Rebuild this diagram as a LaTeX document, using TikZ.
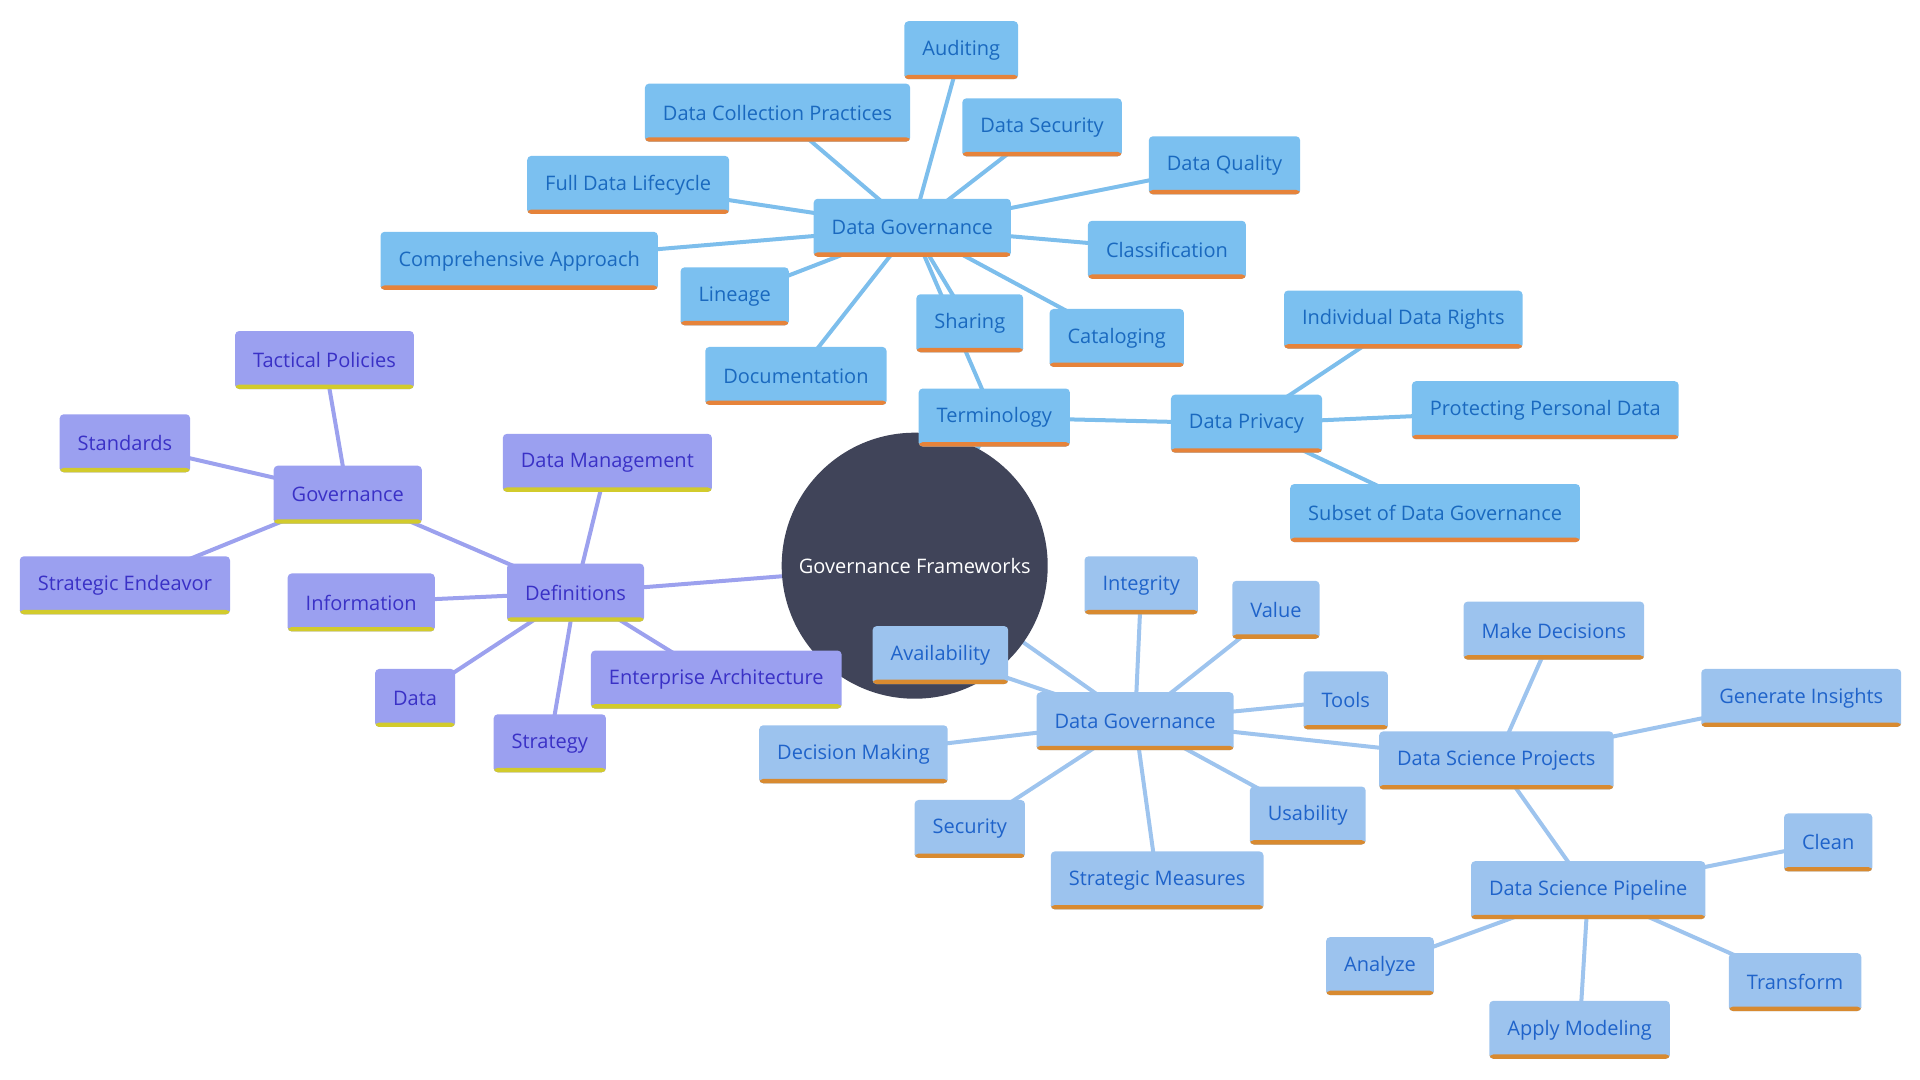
\documentclass[tikz,border=0pt]{standalone}
\usepackage{fontspec}
\setmainfont{Open Sans}
\usetikzlibrary{backgrounds}
\definecolor{rootfill}{HTML}{404459}
\definecolor{purplefill}{HTML}{9BA0F0}
\definecolor{purpletext}{HTML}{3A31C6}
\definecolor{purplebar}{HTML}{D2CB2C}
\definecolor{purpleline}{HTML}{9CA1EE}
\definecolor{bluefill}{HTML}{7BC0F0}
\definecolor{bluetext}{HTML}{1A69BF}
\definecolor{bluebar}{HTML}{E6833A}
\definecolor{blueline}{HTML}{7DBEEC}
\definecolor{skyfill}{HTML}{9CC3EE}
\definecolor{skytext}{HTML}{1F63CA}
\definecolor{skybar}{HTML}{D88A30}
\definecolor{skyline}{HTML}{9EC4EE}
\begin{document}
\begin{tikzpicture}[x=0.6122pt,y=-0.6122pt,
    box/.style={rectangle,rounded corners=2pt,minimum height=29pt,inner xsep=9pt,inner ysep=0pt,
      font=\fontsize{10}{12}\selectfont},
    purplebox/.style={box,fill=purplefill,text=purpletext,
      path picture={\fill[purplebar] (path picture bounding box.south west) rectangle ([yshift=2.2pt]path picture bounding box.south east);}},
    bluebox/.style={box,fill=bluefill,text=bluetext,
      path picture={\fill[bluebar] (path picture bounding box.south west) rectangle ([yshift=2.2pt]path picture bounding box.south east);}},
    skybox/.style={box,fill=skyfill,text=skytext,
      path picture={\fill[skybar] (path picture bounding box.south west) rectangle ([yshift=2.2pt]path picture bounding box.south east);}},
    rootnode/.style={circle,fill=rootfill,text=white,minimum size=133pt,inner sep=0pt,
      font=\fontsize{10}{12}\selectfont},
    purplelink/.style={draw=purpleline,line width=2pt},
    bluelink/.style={draw=blueline,line width=2pt},
    skylink/.style={draw=skyline,line width=2pt}]
  \useasboundingbox (0,0) rectangle (1568,882);

  \node [rootnode] (root) at (747,462) {Governance Frameworks};

  \node [purplebox] (tactical) at (265,294) {Tactical Policies};
  \node [purplebox] (standards) at (102,362) {Standards};
  \node [purplebox] (gov) at (284,404) {Governance};
  \node [purplebox] (endeavor) at (102,478) {Strategic Endeavor};
  \node [purplebox] (datamgmt) at (496,378) {Data Management};
  \node [purplebox] (info) at (295,492) {Information};
  \node [purplebox] (defs) at (470,484) {Definitions};
  \node [purplebox] (data) at (339,570) {Data};
  \node [purplebox] (strategy) at (449,607) {Strategy};
  \node [purplebox] (entarch) at (585,555) {Enterprise Architecture};

  \node [bluebox] (auditing) at (785,41) {Auditing};
  \node [bluebox] (collection) at (635,92) {Data Collection Practices};
  \node [bluebox] (datasecurity) at (851,104) {Data Security};
  \node [bluebox] (lifecycle) at (513,151) {Full Data Lifecycle};
  \node [bluebox] (quality) at (1000,135) {Data Quality};
  \node [bluebox] (dgtop) at (745,186) {Data Governance};
  \node [bluebox] (approach) at (424,213) {Comprehensive Approach};
  \node [bluebox] (classification) at (953,204) {Classification};
  \node [bluebox] (lineage) at (600,242) {Lineage};
  \node [bluebox] (sharing) at (792,264) {Sharing};
  \node [bluebox] (cataloging) at (912,276) {Cataloging};
  \node [bluebox] (documentation) at (650,307) {Documentation};
  \node [bluebox] (terminology) at (812,341) {Terminology};
  \node [bluebox] (privacy) at (1018,346) {Data Privacy};
  \node [bluebox] (rights) at (1146,261) {Individual Data Rights};
  \node [bluebox] (personal) at (1262,335) {Protecting Personal Data};
  \node [bluebox] (subset) at (1172,419) {Subset of Data Governance};

  \node [skybox] (integrity) at (932,478) {Integrity};
  \node [skybox] (value) at (1042,498) {Value};
  \node [skybox] (availability) at (768,535) {Availability};
  \node [skybox] (makedecisions) at (1269,515) {Make Decisions};
  \node [skybox] (insights) at (1471,570) {Generate Insights};
  \node [skybox] (tools) at (1099,572) {Tools};
  \node [skybox] (dgbottom) at (927,589) {Data Governance};
  \node [skybox] (decisionmaking) at (697,616) {Decision Making};
  \node [skybox] (dsprojects) at (1222,621) {Data Science Projects};
  \node [skybox] (usability) at (1068,666) {Usability};
  \node [skybox] (security) at (792,677) {Security};
  \node [skybox] (clean) at (1493,688) {Clean};
  \node [skybox] (measures) at (945,719) {Strategic Measures};
  \node [skybox] (pipeline) at (1297,727) {Data Science Pipeline};
  \node [skybox] (analyze) at (1127,789) {Analyze};
  \node [skybox] (transform) at (1466,802) {Transform};
  \node [skybox] (modeling) at (1290,841) {Apply Modeling};

  \begin{scope}[on background layer]
    \foreach \a/\b in {root/defs,defs/gov,defs/datamgmt,defs/info,defs/data,defs/strategy,defs/entarch,
        gov/tactical,gov/standards,gov/endeavor}
      \draw [purplelink] (\a.center) -- (\b.center);
    \foreach \a/\b in {root/terminology,terminology/dgtop,terminology/privacy,
        dgtop/auditing,dgtop/collection,dgtop/datasecurity,dgtop/lifecycle,dgtop/quality,dgtop/approach,
        dgtop/classification,dgtop/lineage,dgtop/sharing,dgtop/cataloging,dgtop/documentation,
        privacy/rights,privacy/personal,privacy/subset}
      \draw [bluelink] (\a.center) -- (\b.center);
    \foreach \a/\b in {root/dgbottom,dgbottom/integrity,dgbottom/value,dgbottom/availability,dgbottom/tools,
        dgbottom/decisionmaking,dgbottom/security,dgbottom/measures,dgbottom/usability,dgbottom/dsprojects,
        dsprojects/makedecisions,dsprojects/insights,dsprojects/pipeline,
        pipeline/clean,pipeline/analyze,pipeline/transform,pipeline/modeling}
      \draw [skylink] (\a.center) -- (\b.center);
  \end{scope}
\end{tikzpicture}
\end{document}
